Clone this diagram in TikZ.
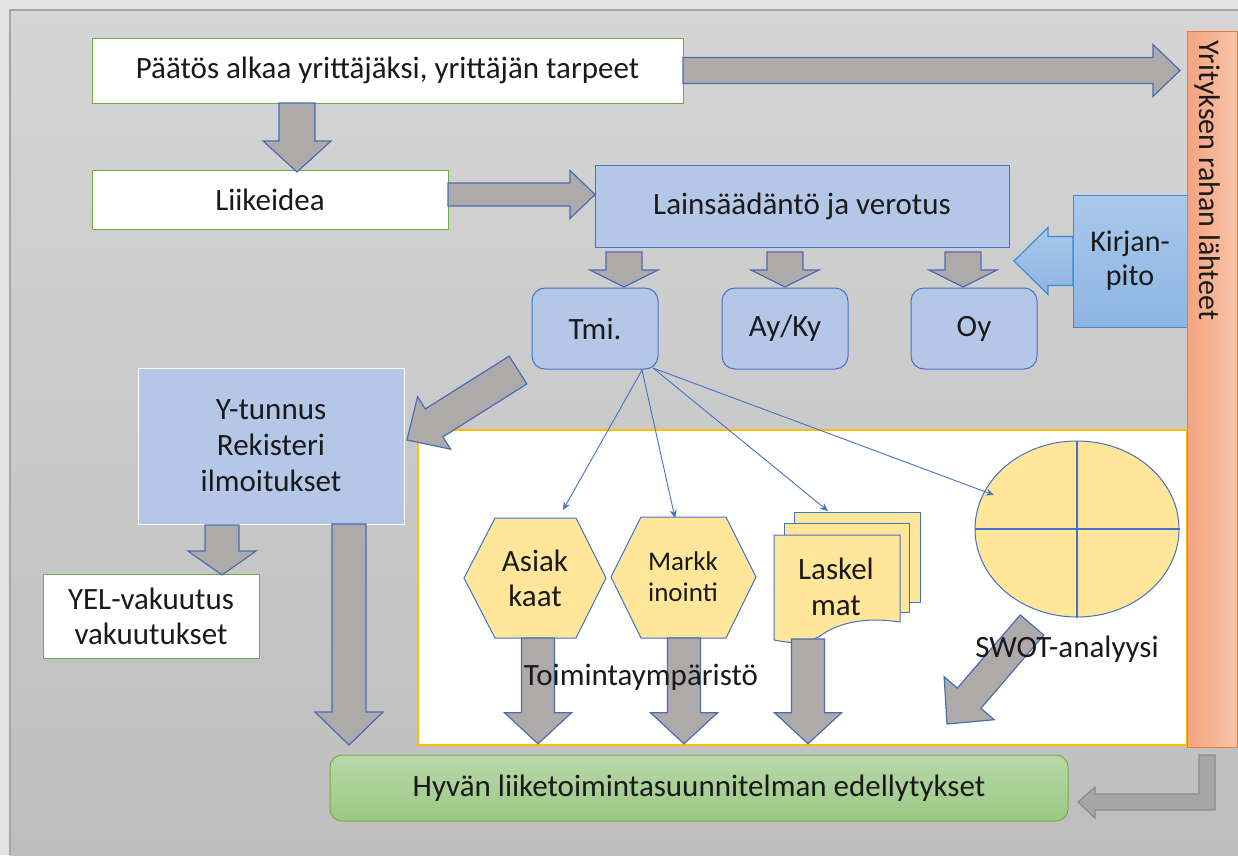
\documentclass[tikz,border=0pt]{standalone}
\usepackage{fontspec}
\setmainfont{Carlito}
\usetikzlibrary{calc,arrows.meta,shapes.geometric}

\definecolor{outerbg}{HTML}{E3E3E3}
\definecolor{paneltop}{HTML}{D5D5D5}
\definecolor{panelbot}{HTML}{BEBEBE}
\definecolor{panelline}{HTML}{A5A5A5}
\definecolor{arrowfill}{HTML}{AEAAAA}
\definecolor{arrowline}{HTML}{4A6DB0}
\definecolor{boxblue}{HTML}{B4C7E7}
\definecolor{lineblue}{HTML}{4472C4}
\definecolor{okgreen}{HTML}{70AD47}
\definecolor{docyellow}{HTML}{FFE699}
\definecolor{panelgold}{HTML}{FFC000}
\definecolor{barleft}{HTML}{F4A47F}
\definecolor{barright}{HTML}{F8C3A9}
\definecolor{barline}{HTML}{ED7D31}
\definecolor{booktop}{HTML}{A9C9EC}
\definecolor{bookbot}{HTML}{8DB4E2}
\definecolor{bookline}{HTML}{3E8DD3}
\definecolor{plantop}{HTML}{B8D8A8}
\definecolor{planbot}{HTML}{9BC884}
\definecolor{bentfill}{HTML}{A6A6A6}
\definecolor{bentline}{HTML}{8C8C8C}
\definecolor{inktext}{HTML}{1A1A1A}

% block arrow: [style] start, tip, half body, half head, head length
\newcommand{\blockarrow}[6][]{%
  \coordinate (ba-s) at (#2);
  \coordinate (ba-e) at (#3);
  \coordinate (ba-b) at ($(ba-e)!#6!(ba-s)$);
  \draw[bigarrow,#1] ($(ba-s)!#4!90:(ba-e)$) -- ($(ba-b)!#4!90:(ba-e)$) -- ($(ba-b)!#5!90:(ba-e)$)
    -- (ba-e) -- ($(ba-b)!#5!-90:(ba-e)$) -- ($(ba-b)!#4!-90:(ba-e)$) -- ($(ba-s)!#4!-90:(ba-e)$) -- cycle;}

\begin{document}
\begin{tikzpicture}[x=1pt,y=-1pt,line join=round,>={Stealth[length=8pt,width=7pt]},
    font=\fontsize{31}{36}\selectfont,text=inktext,
    whitebox/.style={draw=okgreen,fill=white,line width=1pt,inner sep=0pt,outer sep=0pt},
    bluebox/.style={draw=lineblue,fill=boxblue,line width=1pt,inner sep=0pt,outer sep=0pt},
    formbox/.style={bluebox,rounded corners=13pt,minimum width=126pt,minimum height=81pt},
    bookbox/.style={draw=bookline,top color=booktop,bottom color=bookbot,line width=1pt,inner sep=0pt,outer sep=0pt},
    orangebar/.style={draw=barline,left color=barleft,right color=barright,line width=1pt,inner sep=0pt,outer sep=0pt},
    planbox/.style={draw=okgreen,top color=plantop,bottom color=planbot,line width=1pt,rounded corners=12pt,inner sep=0pt,outer sep=0pt},
    yellowshape/.style={draw=lineblue,fill=docyellow,line width=1pt,line join=miter},
    bigarrow/.style={draw=arrowline,fill=arrowfill,line width=1.2pt,line join=miter},
    bookarrow/.style={draw=bookline,top color=booktop,bottom color=bookbot},
    bentarrow/.style={draw=bentline,fill=bentfill,line width=1.2pt,line join=miter},
    thinarrow/.style={->,lineblue,line width=0.9pt}]
\useasboundingbox (0,0) rectangle (1238,855);
\fill[outerbg] (0,0) rectangle (1238,855);
\shade[top color=paneltop,bottom color=panelbot] (10,10) rectangle (1238,855);
\draw[panelline,line width=1.5pt] (10,855) -- (10,10) -- (1238,10);

\node[draw=panelgold,fill=white,line width=1.5pt,minimum width=769pt,minimum height=315pt,inner sep=0pt] (env) at (802.5,587.5) {};

\node[whitebox,minimum width=591pt,minimum height=65pt] (decision) at (387.5,70.5) {Päätös alkaa yrittäjäksi, yrittäjän tarpeet};
\node[whitebox,minimum width=356pt,minimum height=59pt] (idea) at (270,199.5) {Liikeidea};
\node[bluebox,minimum width=414pt,minimum height=82pt] (law) at (802,206) {Lainsäädäntö ja verotus};
\node[formbox] (tmi) at (595,328.5) {Tmi.};
\node[formbox] (ayky) at (785,328.5) {Ay/Ky};
\node[formbox] (oy) at (974,328.5) {Oy};
\node[bookbox,minimum width=114pt,minimum height=132pt,align=center,font=\fontsize{30}{34}\selectfont] (book) at (1130,261) {Kirjan-\\pito};
\node[orangebar,minimum width=50pt,minimum height=716pt] (srcbar) at (1212,389) {};
\node[rotate=-90,anchor=west,font=\fontsize{30}{36}\selectfont] (srctext) at (1207,37) {Yrityksen rahan lähteet};
\node[bluebox,draw=white,minimum width=266pt,minimum height=156pt,align=center] (ytunnus) at (271,446) {Y-tunnus\\Rekisteri\\ilmoitukset};
\node[whitebox,minimum width=216pt,minimum height=84pt,align=center,font=\fontsize{31}{35}\selectfont] (yel) at (151,616) {YEL-vakuutus\\vakuutukset};
\node[planbox,minimum width=738pt,minimum height=66pt] (plan) at (699,788) {Hyvän liiketoimintasuunnitelman edellytykset};

\coordinate (asiak) at (535,578);
\coordinate (markk) at (683,577);
\coordinate (laskel) at (836,587);
\draw[yellowshape,shift={(asiak)}] (-71,0) -- (-40,-60) -- (41,-60) -- (71,0) -- (41,60) -- (-40,60) -- cycle;
\draw[yellowshape,shift={(markk)}] (-72,0) -- (-42,-60) -- (43,-60) -- (73,0) -- (43,61) -- (-42,61) -- cycle;
\draw[yellowshape,shift={(laskel)}] (-42,-75) rectangle (84,15);
\draw[yellowshape,shift={(laskel)}] (-52,-64) rectangle (73,25);
\draw[yellowshape,shift={(laskel)}] (-62,-52) -- (64,-52) -- (64,35) .. controls (24,29) and (-1,38) .. (-16,49)
  .. controls (-31,58) and (-46,56) .. (-62,53) -- cycle;
\node[align=center,font=\fontsize{31}{35}\selectfont] (asiaktext) at (asiak) {Asiak\\kaat};
\node[align=center,font=\fontsize{27}{31}\selectfont] (markktext) at (markk) {Markk\\inointi};
\node[align=center] (laskeltext) at (laskel) {Laskel\\mat};
\node[yellowshape,ellipse,minimum width=204pt,minimum height=176pt,inner sep=0pt] (swot) at (1077,529) {};
\draw[lineblue,line width=1.2pt] (swot.north) -- (swot.south) (swot.west) -- (swot.east);

\blockarrow{decision.east}{$(decision.east -| srcbar.west)+(-7,0)$}{13pt}{26pt}{27pt}
\blockarrow{$(decision.south west)+(205,0)$}{$(idea.north west)+(205,2)$}{18pt}{34pt}{31pt}
\blockarrow{$(idea.east)+(0,-5)$}{$(idea.east -| law.west)+(0,-5)$}{11.5pt}{24pt}{25pt}
\foreach \f/\off in {tmi/29,ayky/0,oy/-11}
  {\blockarrow{$(\f.north)+(\off,-36)$}{$(\f.north)+(\off,-1)$}{18pt}{34pt}{17pt}}
\blockarrow[bookarrow]{book.west}{$(book.west)+(-59,0)$}{24.5pt}{33.5pt}{34pt}
\blockarrow{$(tmi.south west)+(-14,1)$}{$(ytunnus.east)+(3,-6)$}{16.5pt}{31pt}{32pt}
\blockarrow{$(ytunnus.south west)+(84,1)$}{$(yel.north west)+(179,1)$}{17pt}{34pt}{24pt}
\blockarrow{$(ytunnus.south west)+(211,0)$}{$(plan.north west)+(19,-10)$}{17pt}{34pt}{33pt}
\foreach \s/\off/\top in {asiak/3/60,markk/1/61,laskel/-28/52}
  {\blockarrow{$(\s)+(\off,\top)$}{$(\s |- env.south)+(\off,-2)$}{16.5pt}{33.5pt}{31pt}}
\blockarrow{$(swot)+(-45,96)$}{$(swot)+(-130,195)$}{15.5pt}{33pt}{34pt}
\draw[bentarrow] ($(srcbar.south)+(-13,8)$) -- ++(16,0) -- ++(0,55) -- ++(-120,0) -- ++(0,8)
  -- ++(-17,-16) -- ++(17,-15) -- ++(0,7) -- ++(104,0) -- cycle;

\coordinate (tmiout) at ($(tmi.south east)+(-16,1)$);
\coordinate (tmiout2) at ($(tmi.south east)+(-5,-1)$);
\draw[thinarrow] (tmiout) -- ($(asiak)+(28,-68)$);
\draw[thinarrow] (tmiout) -- ($(markk)+(-8,-59)$);
\draw[thinarrow] (tmiout2) -- ($(laskel)+(-8,-76)$);
\draw[thinarrow] (tmiout2) -- ($(swot)+(-83,-34)$);

\node (envlabel) at (641,677) {Toimintaympäristö};
\node (swotlabel) at (1067,649) {SWOT-analyysi};
\end{tikzpicture}
\end{document}
